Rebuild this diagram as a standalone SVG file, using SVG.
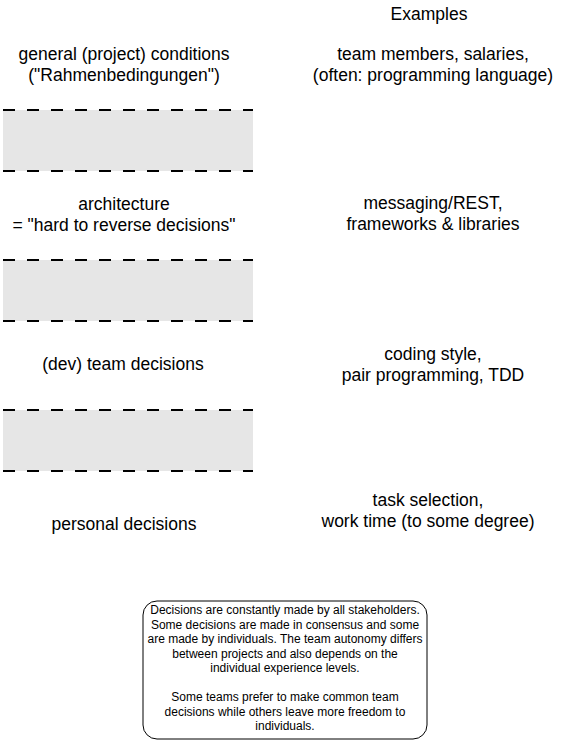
<svg xmlns="http://www.w3.org/2000/svg" width="564" height="741" viewBox="0 0 564 741">
<style>
.t{font-family:"Liberation Sans",Arial,sans-serif;font-size:17.5px;fill:#000;text-anchor:middle}
.s{font-family:"Liberation Sans",Arial,sans-serif;font-size:12px;fill:#000;text-anchor:middle}
.band{fill:#e6e6e6;stroke:none}
.dash{stroke:#000;stroke-width:2;stroke-dasharray:12 12;fill:none}
</style>
<rect width="564" height="741" fill="#fff"/>
<g id="examples-header"><text class="t" x="429" y="19.5">Examples</text></g>
<g id="general-conditions"><text class="t" x="124" y="60">general (project) conditions</text><text class="t" x="124" y="81">("Rahmenbedingungen")</text></g>
<g id="general-examples"><text class="t" x="433" y="60">team members, salaries,</text><text class="t" x="433" y="81">(often: programming language)</text></g>
<g id="band1"><rect class="band" x="3" y="110" width="250" height="61"/><line class="dash" x1="3" y1="110" x2="253" y2="110"/><line class="dash" x1="3" y1="171" x2="253" y2="171"/></g>
<g id="architecture"><text class="t" x="124" y="210">architecture</text><text class="t" x="124" y="231">= "hard to reverse decisions"</text></g>
<g id="architecture-examples"><text class="t" x="433" y="209">messaging/REST,</text><text class="t" x="433" y="230">frameworks &amp; libraries</text></g>
<g id="band2"><rect class="band" x="3" y="260" width="250" height="61"/><line class="dash" x1="3" y1="260" x2="253" y2="260"/><line class="dash" x1="3" y1="321" x2="253" y2="321"/></g>
<g id="team-decisions"><text class="t" x="123" y="370">(dev) team decisions</text></g>
<g id="team-examples"><text class="t" x="433" y="360">coding style,</text><text class="t" x="433" y="381">pair programming, TDD</text></g>
<g id="band3"><rect class="band" x="3" y="410" width="250" height="61"/><line class="dash" x1="3" y1="410" x2="253" y2="410"/><line class="dash" x1="3" y1="471" x2="253" y2="471"/></g>
<g id="personal-decisions"><text class="t" x="124" y="530">personal decisions</text></g>
<g id="personal-examples"><text class="t" x="428" y="506">task selection,</text><text class="t" x="428" y="527">work time (to some degree)</text></g>
<g id="note"><rect x="143" y="601" width="284" height="138" rx="14" ry="14" fill="#fff" stroke="#000" stroke-width="1"/>
<text class="s" x="285" y="614">Decisions are constantly made by all stakeholders.</text>
<text class="s" x="285" y="628.5">Some decisions are made in consensus and some</text>
<text class="s" x="285" y="643">are made by individuals. The team autonomy differs</text>
<text class="s" x="285" y="657.5">between projects and also depends on the</text>
<text class="s" x="285" y="672">individual experience levels.</text>
<text class="s" x="285" y="701">Some teams prefer to make common team</text>
<text class="s" x="285" y="715.5">decisions while others leave more freedom to</text>
<text class="s" x="285" y="730">individuals.</text>
</g>
<g id="connectors"/>
</svg>
